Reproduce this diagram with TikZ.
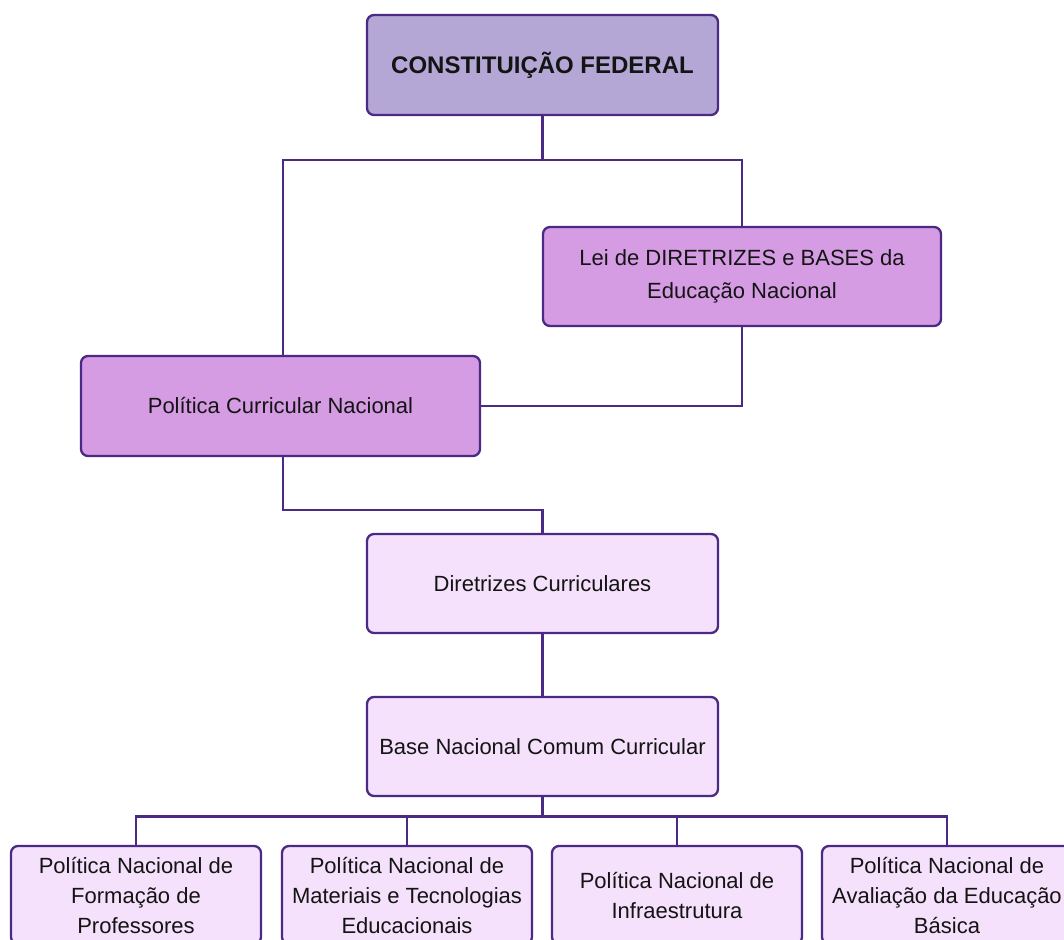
\documentclass[tikz,border=0pt]{standalone}
\usepackage{fontspec}
\setmainfont{Liberation Sans}
\definecolor{linec}{HTML}{4A2A84}
\definecolor{cffill}{HTML}{B4A7D6}
\definecolor{midfill}{HTML}{D59BE3}
\definecolor{lightfill}{HTML}{F5E1FB}
\tikzset{
  box/.style={draw=linec, line width=2.3pt, rounded corners=7pt, inner sep=2pt, align=center,
    font=\fontsize{22}{30}\selectfont, text=black!92},
  conn/.style={draw=linec, line width=2.9pt}
}
\begin{document}
\begin{tikzpicture}[x=1pt,y=-1pt]
\useasboundingbox (0,0) rectangle (1064,939);
\node[box, fill=cffill, minimum width=351, minimum height=100, font=\fontsize{24}{31}\selectfont\bfseries] (cf) at (542.5,65) {CONSTITUIÇÃO FEDERAL};
\node[box, fill=midfill, minimum width=398, minimum height=99] (ldb) at (742,276.5) {Lei de DIRETRIZES e BASES da\\[3pt]Educação Nacional};
\node[box, fill=midfill, minimum width=399, minimum height=100] (pcn) at (280.5,406) {Política Curricular Nacional};
\node[box, fill=lightfill, minimum width=351, minimum height=99] (dc) at (542.5,583.5) {Diretrizes Curriculares};
\node[box, fill=lightfill, minimum width=351, minimum height=99] (bncc) at (542.5,746.5) {Base Nacional Comum Curricular};
\node[box, fill=lightfill, minimum width=250, minimum height=98] (b1) at (136,895) {Política Nacional de\\Formação de\\Professores};
\node[box, fill=lightfill, minimum width=250, minimum height=98] (b2) at (407,895) {Política Nacional de\\Materiais e Tecnologias\\Educacionais};
\node[box, fill=lightfill, minimum width=250, minimum height=98] (b3) at (677,895) {Política Nacional de\\Infraestrutura};
\node[box, fill=lightfill, minimum width=250, minimum height=98] (b4) at (947,895) {Política Nacional de\\Avaliação da Educação\\Básica};
% connectors
\coordinate (j1) at (542.5,160);
\draw[conn] (cf.south) -- (j1);
\draw[conn] (pcn.north -| 283,0) -- (283,160) -- (ldb.north |- j1) -- (ldb.north);
\draw[conn] (ldb.south) |- (pcn.east);
\draw[conn] (pcn.south -| 283,0) -- (283,510) -| (dc.north);
\draw[conn] (dc.south) -- (bncc.north);
\draw[conn] (bncc.south) -- ++(0,19) coordinate (j2);
\draw[conn] (b1.north) |- (j2) -| (b4.north);
\draw[conn] (b2.north) -- (b2.north |- j2);
\draw[conn] (b3.north) -- (b3.north |- j2);
\end{tikzpicture}
\end{document}
